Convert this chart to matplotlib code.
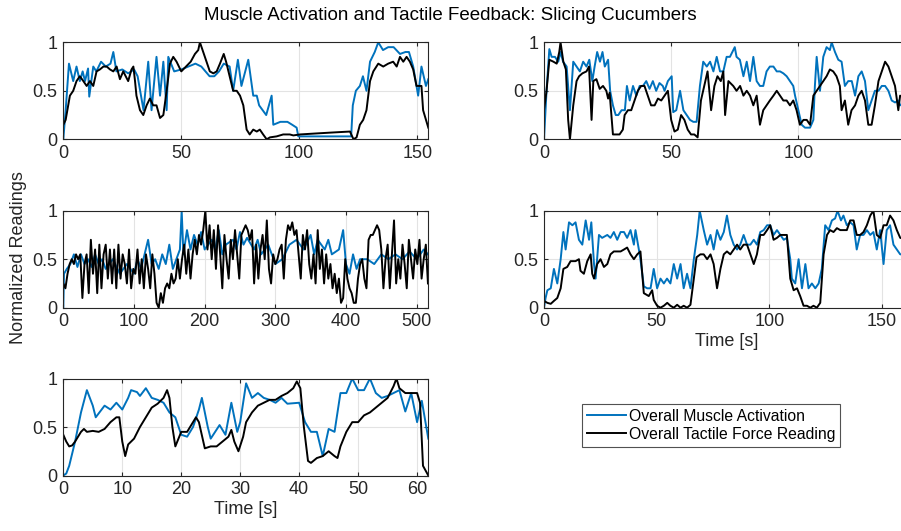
import matplotlib
matplotlib.use('Agg')
import matplotlib.pyplot as plt
import numpy as np

plt.rcParams['font.family'] = ['Liberation Sans', 'DejaVu Sans']

# ---- panel 1 (top left) ----
p1_t_mus = [0, 1, 2.4, 4.2, 5.6, 7, 8.2, 9.2, 10.5, 11,
            12.7, 14, 16, 18, 20, 21.2, 22.5, 25, 27.5, 30,
            31.5, 34, 36, 37.4, 39.5, 41, 42.4, 43.8, 44.5, 47,
            50, 53, 56, 58.5, 62, 64, 66, 68, 70.5, 72,
            74, 75.5, 78.4, 80.5, 82, 83, 86, 88.3, 89, 92,
            95, 97, 98.9, 99.6, 110, 122, 122.7, 124, 125.7, 127,
            128.5, 130, 132, 133.5, 135.5, 137.7, 140, 142.7, 145, 146.5,
            148.3, 150.4, 151.8, 153.7, 154.7]
p1_mus = [0, 0.3, 0.78, 0.6, 0.75, 0.6, 0.7, 0.6, 0.73, 0.44,
          0.75, 0.7, 0.8, 0.75, 0.78, 0.9, 0.7, 0.72, 0.68, 0.72,
          0.65, 0.3, 0.8, 0.3, 0.85, 0.45, 0.8, 0.3, 0.85, 0.7,
          0.72, 0.75, 0.78, 0.75, 0.65, 0.65, 0.7, 0.78, 0.75, 0.5,
          0.82, 0.55, 0.82, 0.45, 0.45, 0.35, 0.25, 0.45, 0.15, 0.18,
          0.18, 0.15, 0.12, 0.03, 0.03, 0.03, 0.35, 0.5, 0.55, 0.65,
          0.5, 0.8, 0.9, 1.0, 0.92, 0.95, 0.95, 0.88, 0.9, 0.9,
          0.75, 0.45, 0.75, 0.55, 0.62]
p1_t_frc = [0, 1, 2.8, 4.2, 5.6, 7, 8.5, 9.9, 11.3, 12.7,
            14.1, 15.5, 17, 18.4, 19.8, 21.2, 22.6, 24, 25.4, 27.5,
            28.9, 29.7, 30.4, 31, 32.5, 33.9, 35.3, 36.7, 38.1, 39.5,
            41, 42.4, 43.8, 45.2, 46.6, 48, 50, 52, 54, 55.8,
            57.2, 57.9, 59.3, 60.7, 62.1, 63.6, 65, 66.4, 68, 69,
            70.5, 72, 73.5, 74.9, 76.3, 77.7, 79, 80.5, 82, 83.3,
            84.7, 86.2, 87.6, 90.4, 93.2, 96, 97.5, 100.3, 107, 114,
            121.5, 123, 124.3, 125.7, 127.1, 128.5, 130, 131.4, 133.5, 135.6,
            137.7, 139.8, 141.3, 142.7, 144.1, 145.5, 146.9, 148.3, 149.7, 151.8,
            152.5, 154.7]
p1_frc = [0.15, 0.2, 0.45, 0.5, 0.6, 0.65, 0.6, 0.55, 0.6, 0.55,
          0.7, 0.72, 0.75, 0.75, 0.72, 0.7, 0.75, 0.62, 0.7, 0.6,
          0.72, 0.75, 0.6, 0.45, 0.3, 0.25, 0.35, 0.42, 0.35, 0.35,
          0.22, 0.25, 0.5, 0.78, 0.85, 0.8, 0.7, 0.75, 0.8, 0.88,
          0.92, 1.0, 0.9, 0.8, 0.7, 0.68, 0.7, 0.78, 0.88, 0.8,
          0.65, 0.5, 0.5, 0.45, 0.35, 0.1, 0.05, 0.1, 0.08, 0.1,
          0.05, 0.0, 0.02, 0.03, 0.05, 0.05, 0.04, 0.05, 0.06, 0.07,
          0.08, 0.0, 0.02, 0.15, 0.2, 0.3, 0.6, 0.7, 0.78, 0.75,
          0.78, 0.8, 0.75, 0.85, 0.8, 0.85, 0.8, 0.72, 0.55, 0.55,
          0.3, 0.12]

# ---- panel 2 (top right) ----
p2_t_mus = [0, 1, 2.1, 3, 4.3, 5.6, 6.5, 7.5, 8.9, 10.2,
            11.5, 12.8, 14.1, 15.4, 16.7, 17.8, 19, 19.9, 20.9, 22,
            23, 23.9, 25.2, 26, 27.1, 28.2, 29.2, 30.5, 31.8, 32.6,
            33.7, 35, 36.3, 37.6, 38.9, 40.2, 41.5, 42.8, 44.1, 45.4,
            46.7, 47.4, 48.7, 50.2, 50.8, 52, 53.5, 54.8, 56.1, 57.4,
            58.7, 60, 61.3, 62.6, 64, 65.3, 66.6, 67.9, 69.2, 70.5,
            71.8, 73.1, 75, 75.7, 77, 78.4, 79.7, 81, 82.3, 83.6,
            84.9, 86.2, 87.5, 88.8, 90.2, 91.5, 92.8, 94.1, 95.4, 96.7,
            98, 98.7, 100, 101.3, 102.6, 104.6, 105.9, 106.5, 107.2, 108.5,
            109.8, 111.1, 112.4, 113.1, 114.4, 115.7, 117, 118.3, 119.6, 121,
            122.3, 123.6, 124.9, 126.2, 127.5, 128.8, 130.1, 131.5, 132.8, 134.1,
            135.4, 136.7, 138, 139.3, 140, 143.5]
p2_mus = [0, 0.5, 0.93, 0.85, 0.85, 0.8, 0.9, 0.8, 0.75, 0.3,
          0.8, 0.75, 0.7, 0.8, 0.75, 0.82, 0.6, 0.75, 0.9, 0.8,
          0.9, 0.75, 0.82, 0.5, 0.35, 0.25, 0.25, 0.3, 0.3, 0.55,
          0.4, 0.55, 0.45, 0.55, 0.55, 0.6, 0.52, 0.6, 0.5, 0.58,
          0.55, 0.5, 0.6, 0.65, 0.28, 0.3, 0.5, 0.3, 0.25, 0.2,
          0.18, 0.18, 0.55, 0.8, 0.75, 0.8, 0.7, 0.85, 0.7, 0.7,
          0.85, 0.85, 0.95, 0.85, 0.82, 0.65, 0.8, 0.6, 0.85, 0.6,
          0.55, 0.55, 0.7, 0.75, 0.75, 0.7, 0.7, 0.68, 0.65, 0.6,
          0.55, 0.45, 0.3, 0.15, 0.12, 0.12, 0.2, 0.55, 0.85, 0.5,
          0.85, 0.95, 0.92, 1.0, 0.9, 0.82, 0.8, 0.55, 0.6, 0.6,
          0.45, 0.65, 0.7, 0.6, 0.3, 0.4, 0.5, 0.5, 0.55, 0.55,
          0.5, 0.4, 0.38, 0.4, 0.35, 0.4]
p2_t_frc = [0, 1, 2.1, 3.7, 5, 6, 6.5, 7.6, 8.6, 9.5,
            10.2, 11.5, 12.8, 13.8, 15.1, 16.7, 17.7, 18.7, 19.4, 20.6,
            21.9, 23.2, 24.5, 25.2, 25.8, 27.1, 28.4, 29.7, 31, 31.7,
            33, 34.3, 35.6, 36.9, 38.2, 39.5, 40.8, 42.1, 43.5, 44.8,
            46.1, 47.4, 48.7, 50, 51.3, 52.6, 53.9, 55.2, 56.5, 57.8,
            59.1, 60.4, 61.7, 63, 64.3, 65.7, 67, 68.2, 69.5, 70.5,
            71.2, 72.5, 74.4, 75.7, 77.1, 78.4, 79.7, 81, 82.3, 83.6,
            84.9, 86.2, 87.5, 88.8, 90.2, 91.5, 92.8, 94.1, 95.4, 96.7,
            98, 99.3, 100.6, 102, 103.3, 104.6, 105.9, 107.2, 108.5, 109.8,
            111.1, 112.4, 113.7, 115, 116.3, 117, 118.3, 119.6, 120.9, 122.3,
            123.6, 124.9, 126.2, 127.5, 128.8, 130.1, 131.5, 132.8, 134.1, 135.4,
            136.7, 138, 139.3, 140, 143.5]
p2_frc = [0.3, 0.5, 0.82, 0.8, 0.78, 0.9, 1.0, 0.8, 0.72, 0.2,
          0.0, 0.35, 0.6, 0.65, 0.68, 0.7, 0.75, 0.2, 0.6, 0.62,
          0.52, 0.55, 0.5, 0.42, 0.48, 0.05, 0.05, 0.05, 0.1, 0.25,
          0.3, 0.3, 0.4, 0.5, 0.55, 0.55, 0.45, 0.35, 0.35, 0.42,
          0.4, 0.45, 0.5, 0.2, 0.08, 0.1, 0.25, 0.2, 0.1, 0.05,
          0.05, 0.02, 0.4, 0.55, 0.7, 0.3, 0.55, 0.65, 0.6, 0.7,
          0.25, 0.6, 0.55, 0.5, 0.55, 0.45, 0.5, 0.45, 0.35, 0.45,
          0.15, 0.3, 0.35, 0.4, 0.45, 0.5, 0.45, 0.4, 0.4, 0.35,
          0.4, 0.3, 0.15, 0.2, 0.2, 0.15, 0.45, 0.5, 0.55, 0.6,
          0.65, 0.72, 0.7, 0.65, 0.55, 0.3, 0.4, 0.15, 0.3, 0.35,
          0.45, 0.5, 0.4, 0.15, 0.15, 0.35, 0.6, 0.7, 0.8, 0.75,
          0.65, 0.55, 0.3, 0.45, 0.4]

# ---- panel 3 (middle left) ----
p3_t_mus = [0, 1, 5, 10, 15, 20, 25, 30, 35, 40,
            45, 50, 55, 60, 70, 80, 90, 100, 105, 110,
            115, 120, 125, 130, 135, 140, 145, 150, 155, 160,
            165, 167.5, 170, 175, 180, 185, 190, 195, 200, 210,
            215, 220, 225, 230, 240, 245, 250, 255, 260, 270,
            275, 280, 290, 300, 310, 320, 330, 340, 350, 355,
            360, 370, 375, 380, 390, 396, 400, 405, 410, 415,
            420, 430, 440, 450, 460, 470, 480, 490, 500, 510,
            516]
p3_mus = [0.0, 0.35, 0.4, 0.45, 0.55, 0.42, 0.55, 0.45, 0.5, 0.42,
          0.55, 0.45, 0.5, 0.4, 0.5, 0.35, 0.45, 0.35, 0.5, 0.4,
          0.55, 0.7, 0.45, 0.5, 0.4, 0.55, 0.45, 0.65, 0.4, 0.5,
          0.6, 1.0, 0.55, 0.8, 0.6, 0.75, 0.65, 0.78, 0.6, 0.7,
          0.6, 0.8, 0.55, 0.65, 0.7, 0.6, 0.78, 0.65, 0.72, 0.6,
          0.7, 0.55, 0.65, 0.45, 0.5, 0.65, 0.7, 0.6, 0.75, 0.55,
          0.7, 0.6, 0.7, 0.55, 0.6, 0.8, 0.45, 0.35, 0.55, 0.4,
          0.5, 0.5, 0.45, 0.55, 0.5, 0.55, 0.5, 0.58, 0.5, 0.6,
          0.55]
p3_dt_frc = 3  # sample spacing of the force trace [s]
p3_frc = [0.25, 0.2, 0.35, 0.45, 0.5, 0.45, 0.55, 0.5, 0.55, 0.1,
          0.45, 0.55, 0.15, 0.7, 0.35, 0.6, 0.15, 0.65, 0.2, 0.55,
          0.65, 0.3, 0.6, 0.25, 0.6, 0.2, 0.65, 0.3, 0.55, 0.45,
          0.25, 0.6, 0.2, 0.4, 0.35, 0.6, 0.25, 0.5, 0.2, 0.55,
          0.4, 0.2, 0.55, 0.35, 0.05, 0.0, 0.15, 0.05, 0.2, 0.25,
          0.2, 0.35, 0.25, 0.3, 0.5, 0.3, 0.5, 0.65, 0.35, 0.6,
          0.3, 0.55, 0.7, 0.55, 0.75, 0.65, 0.8, 1.0, 0.6, 0.85,
          0.5, 0.8, 0.4, 0.85, 0.55, 0.2, 0.75, 0.5, 0.3, 0.7,
          0.5, 0.8, 0.55, 0.3, 0.75, 0.8, 0.85, 0.8, 0.7, 0.8,
          0.25, 0.65, 0.3, 0.6, 0.75, 0.5, 0.9, 0.4, 0.25, 0.55,
          0.45, 0.5, 0.6, 0.65, 0.3, 0.7, 0.85, 0.8, 0.88, 0.75,
          0.8, 0.55, 0.3, 0.75, 0.6, 0.8, 0.45, 0.3, 0.55, 0.25,
          0.8, 0.4, 0.6, 0.25, 0.55, 0.3, 0.45, 0.2, 0.35, 0.15,
          0.3, 0.05, 0.1, 0.5, 0.3, 0.2, 0.15, 0.05, 0.05, 0.3,
          0.45, 0.5, 0.3, 0.2, 0.7, 0.75, 0.75, 0.8, 0.85, 0.8,
          0.6, 0.2, 0.5, 0.65, 0.2, 0.55, 0.9, 0.25, 0.5, 0.3,
          0.65, 0.45, 0.2, 0.7, 0.5, 0.3, 0.6, 0.45, 0.7, 0.3,
          0.5, 0.65, 0.25]

# ---- panel 4 (middle right) ----
p4_t_mus = [0, 0.7, 1.5, 3.0, 4.4, 5.9, 7.4, 8.6, 9.6, 11.1,
            12.6, 14.0, 15.5, 17.0, 18.5, 20.0, 21.0, 22.2, 22.9, 24.4,
            25.8, 28.1, 29.5, 31.0, 32.5, 34.0, 35.5, 36.9, 38.4, 39.9,
            40.6, 42.1, 42.8, 44.3, 45.8, 47.3, 48.7, 50.2, 51.7, 53.2,
            54.6, 56.1, 57.6, 59.1, 60.6, 62.0, 63.5, 65.0, 66.5, 68.0,
            69.1, 70.9, 72.4, 73.9, 75.3, 76.8, 78.3, 79.8, 81.2, 82.7,
            84.2, 85.7, 87.1, 88.6, 90.1, 91.6, 93.1, 94.5, 96.0, 97.5,
            99.0, 100.4, 101.9, 103.4, 104.9, 106.4, 107.8, 109.3, 110.0, 111.5,
            113.0, 114.5, 116.0, 117.4, 118.9, 120.4, 121.9, 123.3, 124.8, 126.3,
            127.8, 129.2, 130.3, 131.8, 132.9, 134.4, 135.9, 137.4, 138.8, 140.3,
            141.8, 143.3, 144.8, 146.2, 147.7, 149.2, 150.7, 152.1, 153.6, 155.1,
            156.6, 158.1, 162.0]
p4_mus = [0, 0.1, 0.18, 0.2, 0.4, 0.25, 0.5, 0.78, 0.6, 0.88,
          0.85, 0.88, 0.7, 0.65, 0.9, 0.7, 0.88, 0.45, 0.3, 0.75,
          0.72, 0.75, 0.72, 0.78, 0.7, 0.78, 0.78, 0.72, 0.8, 0.65,
          0.8, 0.6, 0.5, 0.22, 0.2, 0.2, 0.4, 0.2, 0.3, 0.25,
          0.3, 0.25, 0.45, 0.3, 0.45, 0.2, 0.35, 0.2, 0.5, 0.75,
          1.0, 0.8, 0.65, 0.75, 0.6, 0.8, 0.7, 0.78, 0.95, 0.75,
          0.65, 0.6, 0.65, 0.75, 0.65, 0.65, 0.7, 0.65, 0.78, 0.8,
          0.85, 0.85, 0.75, 0.8, 0.75, 0.7, 0.72, 0.5, 0.3, 0.25,
          0.5, 0.2, 0.45, 0.2, 0.25, 0.2, 0.25, 0.4, 0.85, 0.8,
          0.9, 0.92, 1.0, 0.9, 0.95, 0.85, 0.88, 0.85, 0.6, 0.75,
          0.75, 0.8, 0.75, 0.78, 0.6, 0.8, 0.45, 0.8, 0.85, 0.65,
          0.6, 0.55, 0.55]
p4_t_frc = [0, 1.5, 3.0, 4.4, 5.9, 7.4, 8.6, 10.3, 11.8, 14.0,
            15.5, 16.2, 17.7, 19.2, 20.7, 21.4, 22.2, 23.6, 25.1, 26.6,
            28.1, 29.5, 31.0, 34.0, 35.5, 36.9, 38.4, 39.9, 41.4, 42.8,
            44.3, 46.5, 48.0, 48.7, 50.2, 51.7, 53.2, 54.7, 56.1, 57.6,
            59.1, 60.6, 62.0, 63.5, 65.0, 66.5, 67.7, 69.4, 70.9, 72.4,
            73.9, 75.3, 76.8, 78.3, 79.8, 81.2, 82.7, 84.2, 85.7, 87.1,
            88.6, 90.1, 91.6, 93.1, 94.5, 96.0, 97.5, 99.0, 100.4, 101.9,
            103.4, 104.9, 106.4, 107.8, 109.3, 110.8, 112.3, 113.7, 115.2, 116.7,
            118.2, 119.6, 121.1, 122.6, 124.1, 125.6, 127.0, 128.5, 130.0, 131.5,
            132.9, 134.4, 135.9, 137.4, 138.8, 140.3, 141.8, 143.3, 144.8, 146.2,
            147.7, 149.2, 150.7, 152.1, 153.6, 155.1, 156.6, 158.1, 162.0]
p4_frc = [0.07, 0.05, 0.04, 0.07, 0.1, 0.2, 0.4, 0.42, 0.48, 0.48,
          0.5, 0.38, 0.35, 0.48, 0.55, 0.35, 0.3, 0.45, 0.5, 0.42,
          0.45, 0.55, 0.58, 0.58, 0.6, 0.62, 0.55, 0.5, 0.55, 0.58,
          0.15, 0.12, 0.18, 0.08, 0.02, 0.0, 0.02, 0.05, 0.02, 0.0,
          0.03, 0.0, 0.02, 0.0, 0.03, 0.3, 0.52, 0.55, 0.55, 0.5,
          0.55, 0.45, 0.2, 0.4, 0.55, 0.58, 0.55, 0.6, 0.65, 0.6,
          0.65, 0.65, 0.55, 0.45, 0.55, 0.75, 0.75, 0.8, 0.85, 0.7,
          0.72, 0.75, 0.75, 0.75, 0.3, 0.18, 0.2, 0.12, 0.02, 0.02,
          0.0, 0.02, 0.0, 0.05, 0.55, 0.75, 0.8, 0.78, 0.82, 0.8,
          0.8, 0.8, 0.9, 0.9, 0.75, 0.75, 0.78, 0.85, 0.95, 1.0,
          0.75, 0.72, 0.85, 0.85, 0.95, 0.9, 0.8, 0.72, 0.7]

# ---- panel 5 (bottom left) ----
p5_t_mus = [0, 0.5, 1, 2, 3, 4, 5, 5.5, 6.5, 7,
            8, 9, 10, 11, 11.5, 12.5, 13, 14, 15, 16,
            17, 18, 19, 20, 21, 22, 23, 23.5, 24.5, 25,
            26.5, 27.5, 28.5, 29.5, 30, 31, 32, 33, 34, 35,
            36, 37, 38, 40, 41, 42, 43, 44, 45, 46,
            47, 48, 49, 50, 51, 52, 53, 54, 55, 56,
            57, 58, 59, 60, 60.8, 61.9]
p5_mus = [0, 0.02, 0.1, 0.35, 0.65, 0.88, 0.72, 0.6, 0.68, 0.72,
          0.68, 0.75, 0.68, 0.8, 0.88, 0.86, 0.82, 0.9, 0.8, 0.78,
          0.75, 0.65, 0.6, 0.42, 0.4, 0.5, 0.68, 0.8, 0.5, 0.38,
          0.52, 0.42, 0.75, 0.45, 0.55, 0.95, 0.8, 0.85, 0.8, 0.78,
          0.75, 0.8, 0.74, 0.75, 0.55, 0.45, 0.45, 0.2, 0.48, 0.45,
          0.85, 0.85, 1.0, 0.88, 0.88, 1.0, 0.85, 0.8, 0.82, 0.85,
          0.88, 0.66, 0.85, 0.55, 0.77, 0.38]
p5_t_frc = [0, 0.5, 1, 1.5, 2, 3, 3.5, 4, 5, 6,
            7, 8, 9, 9.5, 10, 10.5, 11, 12, 13, 14,
            15, 16, 17, 17.6, 18, 18.5, 19, 20, 21, 22,
            22.5, 23, 24, 25, 26, 27, 28, 28.5, 29, 29.7,
            30.5, 31, 32, 33, 34, 35, 36, 37, 38, 39,
            39.6, 40.2, 40.8, 41.5, 42, 43, 44, 45, 46, 46.5,
            47, 48, 49, 50, 51, 52, 53, 54, 55, 56,
            56.5, 57, 58, 59, 60, 60.5, 61, 61.9]
p5_frc = [0.42, 0.35, 0.3, 0.31, 0.35, 0.45, 0.48, 0.45, 0.46, 0.45,
          0.48, 0.55, 0.6, 0.6, 0.35, 0.2, 0.32, 0.38, 0.5, 0.6,
          0.7, 0.74, 0.8, 0.88, 0.8, 0.5, 0.3, 0.45, 0.45, 0.55,
          0.6, 0.55, 0.28, 0.3, 0.3, 0.35, 0.4, 0.47, 0.35, 0.25,
          0.4, 0.55, 0.65, 0.72, 0.75, 0.78, 0.78, 0.82, 0.85, 0.9,
          0.97, 0.9, 0.5, 0.15, 0.13, 0.18, 0.2, 0.25, 0.2, 0.18,
          0.3, 0.45, 0.55, 0.55, 0.62, 0.65, 0.7, 0.75, 0.8, 0.92,
          1.0, 0.9, 0.85, 0.85, 0.85, 0.75, 0.1, 0.0]

p3_t_frc = np.arange(len(p3_frc)) * p3_dt_frc

panels = [
    (p1_t_mus, p1_mus, p1_t_frc, p1_frc, 154.7, [0, 50, 100, 150]),
    (p2_t_mus, p2_mus, p2_t_frc, p2_frc, 143.5, [0, 50, 100]),
    (p3_t_mus, p3_mus, p3_t_frc, p3_frc, 516.5, [0, 100, 200, 300, 400, 500]),
    (p4_t_mus, p4_mus, p4_t_frc, p4_frc, 162.0, [0, 50, 100, 150]),
    (p5_t_mus, p5_mus, p5_t_frc, p5_frc, 61.9, [0, 10, 20, 30, 40, 50, 60]),
]

W, H = 901, 531
fig = plt.figure(figsize=(W / 100, H / 100), dpi=100)

# axes boxes in pixels: left, bottom-of-box (from top)
lefts = [63.3, 544.0, 63.3, 544.0, 63.3]
bottoms = [139.3, 139.3, 307.7, 307.7, 475.5]
aw, ah = 365.0, 97.0

blue = '#0072BD'
dark = '#262626'
axes = []
for i, (tm, m, tf, f, xmax, xt) in enumerate(panels):
    ax = fig.add_axes([lefts[i] / W, 1 - bottoms[i] / H, aw / W, ah / H])
    ax.plot(tm, m, color=blue, lw=1.4, label='Overall Muscle Activation')
    ax.plot(tf, f, color='black', lw=1.4, label='Overall Tactile Force Reading')
    ax.set_xlim(0, xmax)
    ax.set_ylim(0, 1)
    ax.set_xticks(xt)
    ax.set_yticks([0, 0.5, 1])
    ax.set_yticklabels(['0', '0.5', '1'])
    ax.grid(True, color='#e3e3e3', lw=0.8)
    ax.set_axisbelow(True)
    for s in ax.spines.values():
        s.set_color(dark)
        s.set_linewidth(0.8)
    ax.tick_params(direction='in', length=3, width=0.8, colors=dark,
                   labelsize=13, top=True, right=True, pad=4)
    axes.append(ax)

axes[3].set_xlabel('Time [s]', fontsize=13, color=dark, labelpad=2)
axes[4].set_xlabel('Time [s]', fontsize=13, color=dark, labelpad=2)

fig.text(0.5, 1 - 15 / H, 'Muscle Activation and Tactile Feedback: Slicing Cucumbers',
         ha='center', va='center', fontsize=13.5, color='black')
fig.text(19 / W, 1 - 258 / H, 'Normalized Readings', rotation=90,
         ha='center', va='center', fontsize=13, color=dark)

h, l = axes[0].get_legend_handles_labels()
leg = fig.legend(h, l, loc='upper left', bbox_to_anchor=(582 / W, 1 - 404 / H),
                 fontsize=11.3, frameon=True, fancybox=False, borderpad=0.3,
                 handlelength=2.5, handletextpad=0.2, labelspacing=0.2,
                 borderaxespad=0)
leg.get_frame().set_edgecolor(dark)
leg.get_frame().set_linewidth(0.8)

fig.savefig('out.png', dpi=100)
